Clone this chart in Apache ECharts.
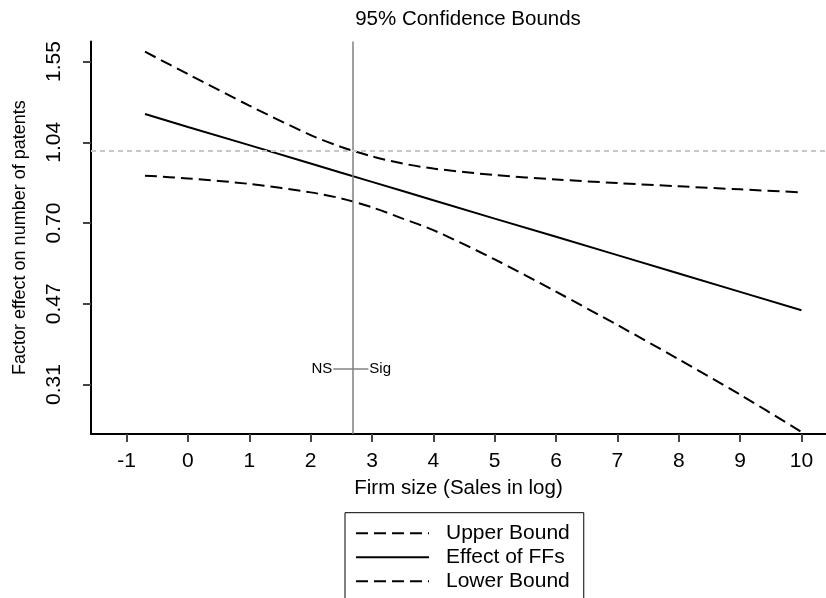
<!DOCTYPE html>
<html>
<head>
<meta charset="utf-8">
<script src="https://cdn.jsdelivr.net/npm/echarts@6/dist/echarts.min.js"></script>
<style>
html,body{margin:0;padding:0;background:#fff;}
#chart{width:826px;height:598px;}
</style>
</head>
<body>
<div id="chart"></div>
<script>
// Firm size (Sales in log)
const xValues = [-0.7, 0, 1, 2, 2.5, 3, 3.5, 4, 5, 6, 7, 8, 9, 10];
// values in log units (labels show exp of the value)
const effectFF   = [0.180, 0.116, 0.026, -0.065, -0.111, -0.156, -0.201, -0.247, -0.338, -0.428, -0.519, -0.610, -0.701, -0.792];
const upperBound = [0.489, 0.378, 0.222, 0.076, 0.017, -0.030, -0.065, -0.090, -0.122, -0.144, -0.162, -0.178, -0.193, -0.208];
const lowerBound = [-0.125, -0.139, -0.166, -0.208, -0.238, -0.282, -0.338, -0.395, -0.540, -0.700, -0.865, -1.035, -1.210, -1.395];
const xTicks = [-1, 0, 1, 2, 3, 4, 5, 6, 7, 8, 9, 10];
const yTicks = [-1.16, -0.76, -0.36, 0.04, 0.44];
const yTickLabels = ['0.31', '0.47', '0.70', '1.04', '1.55'];
const sigPoint = 2.68;
const nsSigY = -1.083;
const nsSigX = [2.37, 2.94];
const nsSigLabels = ['NS', 'Sig'];
const refLine = 0;

function pairs(ys){ return xValues.map((x,i)=>[x, ys[i]]); }

const FONT = 'Liberation Sans, Arial, sans-serif';
const chart = echarts.init(document.getElementById('chart'), null, {renderer:'canvas'});
chart.setOption({
  animation: false,
  backgroundColor: '#fff',
  textStyle: {fontFamily: FONT},
  title: {
    text: '95% Confidence Bounds',
    left: 463, top: 4, textAlign: 'center',
    textStyle: {fontFamily: FONT, fontSize: 20.5, fontWeight: 'normal', color: '#000'}
  },
  grid: {left: 91, right: 0, top: 41.4, bottom: 164},
  legend: {
    orient: 'vertical', left: 345, top: 512.7, height: 120,
    data: ['Upper Bound', 'Effect of FFs', 'Lower Bound'],
    itemWidth: 73, itemHeight: 14, itemGap: 3,
    padding: [10, 14, 10, 10],
    borderColor: '#000', borderWidth: 1, backgroundColor: '#fff',
    itemStyle: {color: 'rgba(0,0,0,0)', borderColor: 'rgba(0,0,0,0)', borderWidth: 0, opacity: 0},
    textStyle: {fontFamily: FONT, fontSize: 21, color: '#000', padding: [0, 0, 0, 12]}
  },
  xAxis: {
    type: 'value', min: -1.58, max: 10.4,
    name: 'Firm size (Sales in log)', nameLocation: 'middle', nameGap: 44,
    nameTextStyle: {fontFamily: FONT, fontSize: 20.5, color: '#000'},
    axisLine: {show: true, onZero: false, lineStyle: {color: '#000', width: 2}},
    axisTick: {show: true, length: 8, customValues: xTicks, lineStyle: {color: '#444', width: 2}},
    axisLabel: {customValues: xTicks, margin: 17, fontFamily: FONT, fontSize: 21, color: '#000'},
    splitLine: {show: false}
  },
  yAxis: {
    type: 'value', min: -1.405, max: 0.54,
    name: 'Factor effect on number of patents', nameLocation: 'middle', nameGap: 62,
    nameTextStyle: {fontFamily: FONT, fontSize: 18, color: '#000'},
    axisLine: {show: true, onZero: false, lineStyle: {color: '#000', width: 2}},
    axisTick: {show: true, length: 8, customValues: yTicks, lineStyle: {color: '#444', width: 2}},
    axisLabel: {
      customValues: yTicks, rotate: 90, margin: 26, fontFamily: FONT, fontSize: 21, color: '#000',
      formatter: function(v){ const i = yTicks.findIndex(t=>Math.abs(t-v)<1e-6); return i>=0 ? yTickLabels[i] : ''; }
    },
    splitLine: {show: false}
  },
  series: [
    {
      name: 'Upper Bound', type: 'line', data: pairs(upperBound), symbol: 'none', smooth: 0.3,
      lineStyle: {color: '#000', width: 2, type: [12, 6]}, itemStyle: {color: '#000'}, z: 3
    },
    {
      name: 'Effect of FFs', type: 'line', data: pairs(effectFF), symbol: 'none',
      lineStyle: {color: '#000', width: 2, type: 'solid'}, itemStyle: {color: '#000'}, z: 3,
      markLine: {
        silent: true, symbol: 'none', label: {show: false},
        data: [
          {xAxis: sigPoint, lineStyle: {color: '#808080', width: 1.5, type: 'solid'}},
          {yAxis: refLine, lineStyle: {color: '#c8c8c8', width: 2, type: [5, 4]}}
        ]
      }
    },
    {
      name: 'Lower Bound', type: 'line', data: pairs(lowerBound), symbol: 'none', smooth: 0.3,
      lineStyle: {color: '#000', width: 2, type: [12, 6]}, itemStyle: {color: '#000'}, z: 3
    },
    {
      name: 'nssig', type: 'line',
      data: nsSigX.map((x, i) => ({
        value: [x, nsSigY],
        label: {formatter: nsSigLabels[i], position: i === 0 ? 'left' : 'right'}
      })),
      symbol: 'circle', symbolSize: 0.1, showSymbol: true,
      lineStyle: {color: '#444', width: 1.2}, itemStyle: {color: '#444'},
      label: {show: true, fontFamily: FONT, fontSize: 15, color: '#000', distance: 1},
      z: 4
    }
  ]
});
</script>
</body>
</html>
